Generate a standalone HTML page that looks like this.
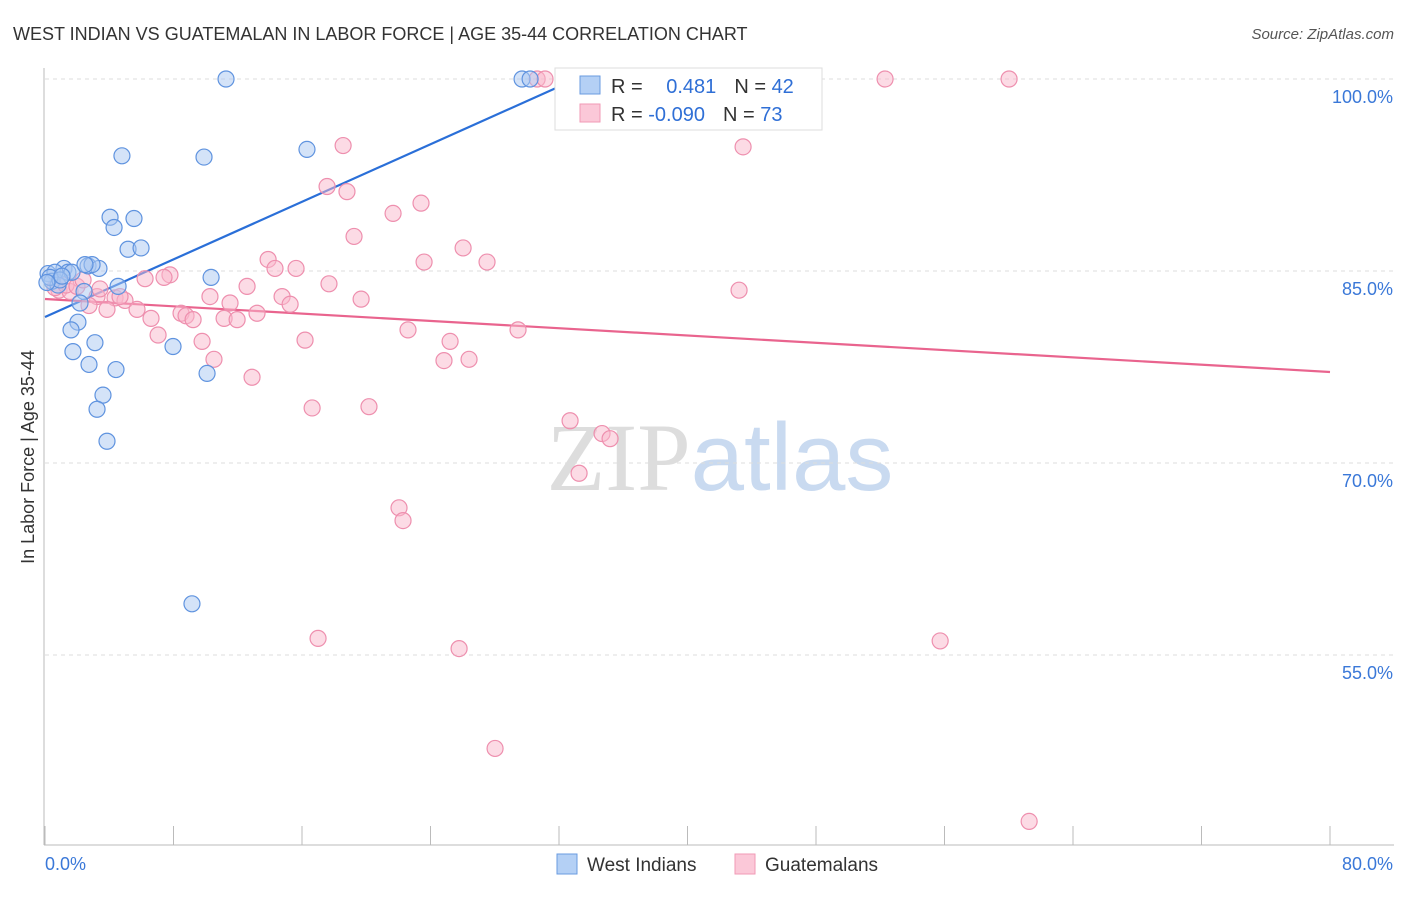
<!DOCTYPE html>
<html><head><meta charset="utf-8"><style>
body{margin:0;background:#fff;font-family:"Liberation Sans",sans-serif;}
svg text{font-family:"Liberation Sans",sans-serif;}
</style></head><body>
<svg id="chart" width="1406" height="892" xmlns="http://www.w3.org/2000/svg">
<text x="13" y="40" font-size="18" fill="#333">WEST INDIAN VS GUATEMALAN IN LABOR FORCE | AGE 35-44 CORRELATION CHART</text>
<text x="1394" y="39" font-size="15" fill="#555" text-anchor="end" font-style="italic">Source: ZipAtlas.com</text>
<text transform="translate(34,457) rotate(-90)" font-size="18" fill="#333" text-anchor="middle">In Labor Force | Age 35-44</text>
<text x="720" y="490" font-size="96" text-anchor="middle"><tspan fill="#ddd" font-family="Liberation Serif">ZIP</tspan><tspan fill="#c9daf0">atlas</tspan></text>
<g id="grid"></g><g id="axes"></g><g id="lines"></g><g id="pts"></g>
<g>
<rect x="555" y="68" width="267" height="62" fill="#fff" stroke="#ddd"/>
<rect x="580" y="76" width="20" height="18" fill="#b4d0f5" stroke="#6a9be0"/>
<rect x="580" y="104" width="20" height="18" fill="#fbc8d8" stroke="#f09ab6"/>
<text x="611" y="93" font-size="20" fill="#333">R = <tspan fill="#2f6fd6" dx="18">0.481</tspan><tspan dx="18">N = </tspan><tspan fill="#2f6fd6">42</tspan></text>
<text x="611" y="121" font-size="20" fill="#333">R = <tspan fill="#2f6fd6">-0.090</tspan><tspan dx="18">N = </tspan><tspan fill="#2f6fd6">73</tspan></text>
</g>
<g>
<rect x="557" y="854" width="20" height="20" fill="#b4d0f5" stroke="#6a9be0"/>
<text x="587" y="871" font-size="19" fill="#333">West Indians</text>
<rect x="735" y="854" width="20" height="20" fill="#fbc8d8" stroke="#f09ab6"/>
<text x="765" y="871" font-size="19" fill="#333">Guatemalans</text>
</g>
</svg>
<script>
const blueX=[11.27,29.70,30.20,4.79,9.90,16.31,4.05,5.54,4.30,5.17,5.98,1.18,2.68,3.36,2.93,1.43,0.19,0.62,0.44,0.81,1.68,10.34,4.55,2.43,2.18,2.05,1.62,1.74,3.11,7.97,2.74,4.42,10.09,3.61,3.24,3.86,9.15,0.31,0.93,0.12,2.49,1.06];
const blueY=[100,100,100,94.0,93.9,94.5,89.2,89.1,88.4,86.7,86.8,85.2,85.4,85.2,85.5,84.9,84.8,84.9,84.2,83.9,84.9,84.5,83.8,83.4,82.5,81.0,80.4,78.7,79.4,79.1,77.7,77.3,77.0,75.3,74.2,71.7,59.0,84.5,84.3,84.1,85.5,84.6];
const pinkX=[30.64,31.13,38.17,52.30,60.02,18.56,43.46,17.56,18.80,23.41,21.67,19.24,26.03,13.89,23.60,27.52,14.32,15.63,6.23,7.78,7.41,17.68,12.58,43.21,10.27,14.76,19.68,15.26,11.52,4.36,4.98,3.24,2.74,3.86,5.73,6.60,8.47,8.78,9.22,11.15,11.96,13.20,7.04,9.78,16.19,22.60,29.45,25.22,10.52,24.84,26.40,12.89,16.63,20.17,32.69,34.68,35.18,33.25,22.04,22.29,17.00,25.78,55.73,28.02,61.27,0.87,1.56,0.62,1.31,1.99,2.37,4.67,3.42];
const pinkY=[100,100,100,100,100,94.8,94.7,91.6,91.2,90.3,89.5,87.7,86.8,85.9,85.7,85.7,85.2,85.2,84.4,84.7,84.5,84.0,83.8,83.5,83.0,83.0,82.8,82.4,82.5,82.9,82.7,83.0,82.3,82.0,82.0,81.3,81.7,81.5,81.2,81.3,81.2,81.7,80.0,79.5,79.6,80.4,80.4,79.5,78.1,78.0,78.1,76.7,74.3,74.4,73.3,72.3,71.9,69.2,66.5,65.5,56.3,55.5,56.1,47.7,42.0,83.5,83.4,83.7,83.9,83.8,84.3,83.0,83.6];
const blueTrend=[[0,81.41],[33.62,100.31]];
const pinkTrend=[[0,82.81],[80,77.11]];
const yTicks=[100,85,70,55];
const xTicks=[0,8,16,24,32,40,48,56,64,72,80];
const NS='http://www.w3.org/2000/svg';
const sx=v=>45+v*16.0625, sy=v=>79+(100-v)*12.8;
function mk(tag,attrs,parent){const e=document.createElementNS(NS,tag);for(const k in attrs)e.setAttribute(k,attrs[k]);document.getElementById(parent).appendChild(e);return e;}
yTicks.forEach(t=>{
 const l=mk('line',{x1:45,x2:1394,y1:sy(t),y2:sy(t),stroke:'#ddd','stroke-dasharray':'4,4'},'grid');
 
 
 const tx=mk('text',{x:1393,y:sy(t)+24,'font-size':18,fill:'#3a78d8','text-anchor':'end'},'axes');
 tx.textContent=t.toFixed(1)+'%';
 
 
});
const ax=mk('line',{x1:44,x2:44,y1:68,y2:845,stroke:'#bbb'},'axes');


const bx=mk('line',{x1:44,x2:1394,y1:845,y2:845,stroke:'#bbb'},'axes');


xTicks.forEach(t=>{
 const l=mk('line',{x1:sx(t),x2:sx(t),y1:826,y2:845,stroke:'#bbb'},'axes');
 
 
});
[[0,'start'],[80,'end']].forEach(([t,a])=>{
 const tx=mk('text',{x:t===0?45:1393,y:870,'font-size':18,fill:'#3a78d8','text-anchor':a},'axes');
 tx.textContent=t.toFixed(1)+'%';
 
 
});
function pts(X,Y,fill,stroke,name){X.forEach((x,i)=>{
 const c=mk('circle',{cx:sx(x),cy:sy(Y[i]),r:8,fill:fill,'fill-opacity':0.5,stroke:stroke,'stroke-width':1.2},'pts');
 
 
});}
pts(pinkX,pinkY,'#f9b8cc','#ee8fae','guatemalan-point');
pts(blueX,blueY,'#a9c8f2','#5f93df','west-indian-point');
const bl=mk('line',{x1:sx(blueTrend[0][0]),y1:sy(blueTrend[0][1]),x2:sx(blueTrend[1][0]),y2:sy(blueTrend[1][1]),stroke:'#2a6fd8','stroke-width':2.2},'lines');


const pl=mk('line',{x1:sx(pinkTrend[0][0]),y1:sy(pinkTrend[0][1]),x2:sx(pinkTrend[1][0]),y2:sy(pinkTrend[1][1]),stroke:'#e9648e','stroke-width':2.2},'lines');


</script>
</body></html>
